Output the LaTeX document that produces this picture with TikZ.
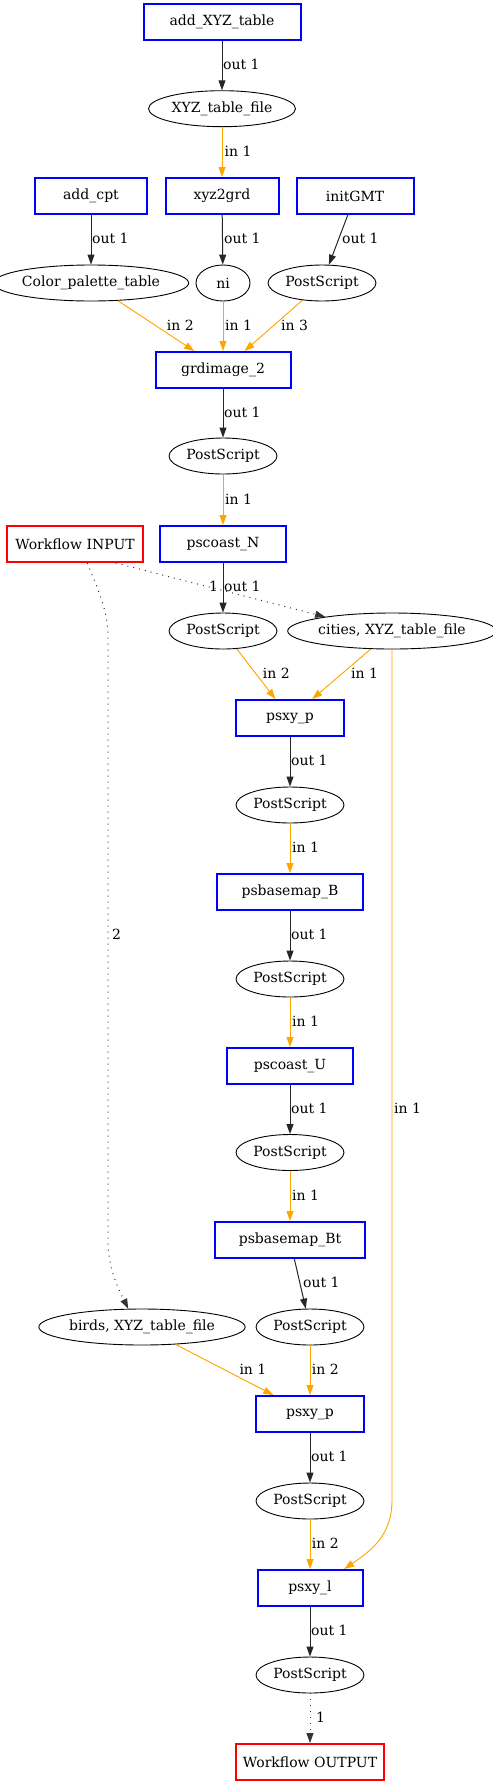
\documentclass[tikz,border=0pt]{standalone}
\usepackage{fontspec}
\setmainfont{DejaVu Serif}
\usetikzlibrary{shapes.geometric,arrows.meta}
\definecolor{edgeorange}{HTML}{FFA500}
\definecolor{procblue}{HTML}{0000FF}
\definecolor{wfred}{HTML}{FF0000}
\begin{document}
\begin{tikzpicture}[x=1bp,y=-1bp,
  every node/.style={font=\fontsize{14bp}{16bp}\selectfont},
  proc/.style={draw=procblue, line width=2bp, rectangle, minimum height=36bp, inner sep=0pt},
  wf/.style={draw=wfred, line width=2bp, rectangle, minimum height=36bp, inner sep=0pt},
  data/.style={draw=black, line width=0.9bp, ellipse, minimum height=36bp, inner sep=0pt},
  tip/.style={-{Triangle[length=10bp,width=7bp]}},
  outE/.style={tip, draw=black!85, line width=1bp},
  inE/.style={tip, draw=edgeorange, fill=edgeorange, line width=0.9bp},
  flowE/.style={-{Triangle[length=10bp,width=7bp,sep=0pt]}, draw=black!80, line width=1bp, dash pattern=on 1bp off 5bp},
  lbl/.style={anchor=west, inner sep=0pt, text=black}
]
\useasboundingbox (0,0) rectangle (493,1784);
% nodes
\node[proc, minimum width=157bp] (addxyz) at (222,22) {add\_XYZ\_table};
\node[data, minimum width=147bp] (xyzfile) at (222,108.7) {XYZ\_table\_file};
\node[proc, minimum width=112bp] (addcpt) at (91,196) {add\_cpt};
\node[proc, minimum width=113bp] (xyz2grd) at (222,196) {xyz2grd};
\node[proc, minimum width=117bp] (initgmt) at (355,196) {initGMT};
\node[data, minimum width=175bp] (cpt) at (91,283) {Color\_palette\_table};
\node[data, minimum width=54bp] (ni) at (223,283) {ni};
\node[data, minimum width=108bp] (ps0) at (322,283) {PostScript};
\node[proc, minimum width=135bp] (grdimage) at (223,370) {grdimage\_2};
\node[data, minimum width=108bp] (ps1) at (223,456) {PostScript};
\node[wf, minimum width=135bp] (wfin) at (75,544) {Workflow INPUT};
\node[proc, minimum width=126bp] (pscoastN) at (223,544) {pscoast\_N};
\node[data, minimum width=108bp] (ps2) at (223,631) {PostScript};
\node[data, minimum width=194bp] (cities) at (392,631) {cities, XYZ\_table\_file};
\node[proc, minimum width=108bp] (psxyp) at (290,718) {psxy\_p};
\node[data, minimum width=108bp] (ps3) at (290,805) {PostScript};
\node[proc, minimum width=146bp] (psbaseB) at (290,892) {psbasemap\_B};
\node[data, minimum width=108bp] (ps4) at (290,979) {PostScript};
\node[proc, minimum width=126bp] (pscoastU) at (290,1066) {pscoast\_U};
\node[data, minimum width=108bp] (ps5) at (290,1152.5) {PostScript};
\node[proc, minimum width=150bp] (psbaseBt) at (290,1240) {psbasemap\_Bt};
\node[data, minimum width=193bp] (birds) at (142,1327) {birds, XYZ\_table\_file};
\node[data, minimum width=108bp] (ps6) at (310,1327) {PostScript};
\node[proc, minimum width=108bp] (psxyp2) at (310,1414) {psxy\_p};
\node[data, minimum width=108bp] (ps7) at (310,1501) {PostScript};
\node[proc, minimum width=105bp] (psxyl) at (310,1588) {psxy\_l};
\node[data, minimum width=108bp] (ps8) at (310,1675) {PostScript};
\node[wf, minimum width=148bp] (wfout) at (310,1762) {Workflow OUTPUT};
% bend points
\coordinate (b1) at (108,640);
\coordinate (b2) at (108,1240);
\coordinate (b3) at (392,1500);
% edges
\draw[outE] (addxyz) -- (xyzfile);
\draw[inE] (xyzfile) -- (xyz2grd);
\draw[outE] (addcpt) -- (cpt);
\draw[outE] (xyz2grd) -- (ni);
\draw[outE] (initgmt) -- (ps0);
\draw[inE] (cpt) -- (grdimage);
\draw[inE] (ni) -- (grdimage);
\draw[inE] (ps0) -- (grdimage);
\draw[outE] (grdimage) -- (ps1);
\draw[inE] (ps1) -- (pscoastN);
\draw[outE] (pscoastN) -- (ps2);
\draw[flowE] (wfin.-25) -- (cities.168);
\draw[flowE] (wfin.-57) .. controls (100,595) and (108,610) .. (b1) -- (b2) .. controls (108,1268) and (118,1288) .. (birds.127);
\draw[inE] (ps2) -- (psxyp);
\draw[inE] (cities) -- (psxyp);
\draw[outE] (psxyp) -- (ps3);
\draw[inE] (ps3) -- (psbaseB);
\draw[outE] (psbaseB) -- (ps4);
\draw[inE] (ps4) -- (pscoastU);
\draw[outE] (pscoastU) -- (ps5);
\draw[inE] (ps5) -- (psbaseBt);
\draw[outE] (psbaseBt) -- (ps6);
\draw[inE] (birds) -- (psxyp2);
\draw[inE] (ps6) -- (psxyp2);
\draw[outE] (psxyp2) -- (ps7);
\draw[inE] (ps7) -- (psxyl);
\draw[inE, fill=none] (cities.south) -- (b3) .. controls (392,1535) and (372,1550) .. (psxyl.29);
\draw[outE] (psxyl) -- (ps8);
\draw[flowE] (ps8) -- (wfout);
% labels
\node[lbl] (l1) at (223,64) {out 1};
\node[lbl] (l2) at (224.5,151.5) {in 1};
\node[lbl] (l3) at (92,238.5) {out 1};
\node[lbl] (l4) at (224,238.5) {out 1};
\node[lbl] (l5) at (342,238.5) {out 1};
\node[lbl] (l6) at (166.7,325.7) {in 2};
\node[lbl] (l7) at (225,325.7) {in 1};
\node[lbl] (l8) at (281,325.7) {in 3};
\node[lbl] (l9) at (224,412) {out 1};
\node[lbl] (l10) at (225,499.5) {in 1};
\node[lbl] (l11) at (209,586) {1};
\node[lbl] (l12) at (224,586) {out 1};
\node[lbl] (l13) at (262.7,673.3) {in 2};
\node[lbl] (l14) at (351,673.3) {in 1};
\node[lbl] (l15) at (291,760.3) {out 1};
\node[lbl] (l16) at (292,847.3) {in 1};
\node[lbl] (l17) at (291,934.3) {out 1};
\node[lbl] (l18) at (112,934.3) {2};
\node[lbl] (l19) at (292,1021.7) {in 1};
\node[lbl] (l20) at (291,1108.7) {out 1};
\node[lbl] (l21) at (394,1108.7) {in 1};
\node[lbl] (l22) at (292,1195.3) {in 1};
\node[lbl] (l23) at (303,1282.3) {out 1};
\node[lbl] (l24) at (239.3,1369.3) {in 1};
\node[lbl] (l25) at (311.7,1369.3) {in 2};
\node[lbl] (l26) at (311,1456.3) {out 1};
\node[lbl] (l27) at (311.7,1543.3) {in 2};
\node[lbl] (l28) at (311,1630.3) {out 1};
\node[lbl] (l29) at (316,1717.3) {1};
\end{tikzpicture}
\end{document}
